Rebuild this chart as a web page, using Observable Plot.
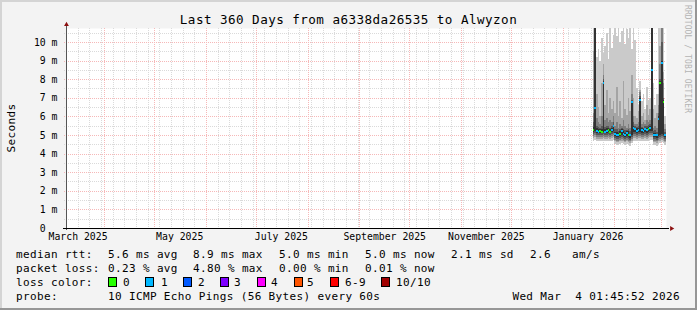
<!DOCTYPE html>
<html><head><meta charset="utf-8">
<script src="https://cdn.jsdelivr.net/npm/d3@7"></script>
<script src="https://cdn.jsdelivr.net/npm/@observablehq/plot@0.6"></script>
<style>
html,body{margin:0;padding:0;background:#fff;}
#chart{position:relative;width:697px;height:310px;background:#f3f3f3;overflow:hidden;
  box-shadow: inset -2px -2px 0 #969696, inset 2px 2px 0 #d4d4d4;}
#chart svg{position:absolute;left:0;top:0;}
#chart svg text{font-family:"DejaVu Sans Mono",monospace;}
</style></head><body><div id="chart"></div>
<script>
// ---- time frame ----
const tStart = new Date(Date.UTC(2025, 2, 9, 1, 45, 52));
const tEnd = new Date(Date.UTC(2026, 2, 4, 1, 45, 52));
const firstDay = "2026-01-19";

// ---- tick labels ----
const xLabels = ["March 2025", "May 2025", "July 2025", "September 2025", "November 2025", "January 2026"];
const xLabelDates = ["2025-03-16", "2025-05-16", "2025-07-16", "2025-09-16", "2025-11-16", "2026-01-16"];
const yTicks = [0, 1, 2, 3, 4, 5, 6, 7, 8, 9, 10];
const yMax = 10.75;

// ---- series (milliseconds), one value per day ----
const med = [5.3, 6.5, 5.25, 5.2, 5.25, 5.2, 7.8, 5.2, 5.25, 5.3, 5.2, 5.3, 5.5,
  5.1, 5.05, 5.0, 5.1, 5.25, 5.1, 5.05, 5.15, 5.0, 5.0, 6.8, 5.4, 5.35,
  5.25, 5.3, 6.9, 5.3, 5.25, 5.35, 5.3, 5.35, 5.4,
  8.5, 5.0, 5.05, 5.0, 5.9, 7.8, 8.9, 6.8, 5.0];
const lossCount = [0, 1, 1, 1, 0, 0, 1, 1, 1, 0, 0, 1, 1,
  1, 1, 1, 0, 1, 1, 1, 1, 0, 1, 1, 1, 1,
  1, 1, 1, 1, 1, 1, 1, 0, 1,
  1, 1, 1, 1, 1, 0, 1, 0, 1];
// sorted pings: p1 (lowest) ... p10 (highest)
const p10 = [10.8, 10.8, 9.2, 9.6, 9.0, 10.2, 9.4, 9.8, 10.5, 9.1, 10.8, 9.7, 10.4,
  10.8, 10.3, 10.8, 10.0, 10.6, 10.8, 9.9, 10.7, 10.2, 10.8, 9.6, 10.8, 10.1,
  7.5, 6.6, 7.9, 6.8, 7.2, 6.4, 7.6, 6.9, 7.0,
  10.8, 7.8, 6.6, 7.2, 10.8, 10.8, 10.8, 10.8, 6.0];
const p9 = [9.5, 10.8, 7.2, 6.5, 6.0, 7.8, 8.8, 6.6, 7.4, 6.2, 7.0, 6.4, 6.8,
  6.2, 7.6, 6.0, 6.8, 5.9, 7.9, 6.4, 6.1, 7.0, 6.3, 8.2, 7.0, 6.0,
  5.9, 6.3, 7.4, 6.0, 6.2, 5.8, 6.6, 6.1, 6.4,
  10.8, 6.4, 5.9, 6.2, 7.2, 9.8, 10.8, 8.4, 5.6];
const p8 = [6.2, 10.8, 5.9, 5.7, 5.6, 6.0, 8.2, 5.8, 5.9, 5.7, 5.8, 5.7, 6.0,
  5.5, 5.7, 5.4, 5.6, 5.5, 5.8, 5.5, 5.4, 5.6, 5.4, 7.2, 6.0, 5.6,
  5.6, 5.7, 7.3, 5.6, 5.7, 5.6, 5.8, 5.7, 5.8,
  10.8, 5.4, 5.5, 5.4, 6.6, 8.8, 10.8, 7.8, 5.3];
const p7 = [5.7, 10.8, 5.5, 5.45, 5.4, 5.5, 8.0, 5.45, 5.5, 5.5, 5.4, 5.5, 5.7,
  5.3, 5.3, 5.2, 5.3, 5.4, 5.3, 5.25, 5.25, 5.3, 5.2, 6.9, 5.7, 5.5,
  5.45, 5.5, 7.1, 5.45, 5.4, 5.5, 5.5, 5.55, 5.6,
  10.8, 5.2, 5.25, 5.15, 6.2, 8.0, 10.0, 7.0, 5.15];
const p6 = [5.45, 10.8, 5.35, 5.3, 5.3, 5.3, 7.9, 5.3, 5.35, 5.35, 5.3, 5.4, 5.55,
  5.15, 5.15, 5.1, 5.2, 5.3, 5.2, 5.1, 5.2, 5.2, 5.05, 6.85, 5.5, 5.4,
  5.35, 5.4, 7.0, 5.35, 5.3, 5.4, 5.4, 5.45, 5.5,
  10.8, 5.1, 5.1, 5.05, 6.0, 7.9, 9.0, 6.9, 5.05];
const p5 = [5.15, 5.2, 5.1, 5.1, 5.1, 5.1, 5.15, 5.1, 5.1, 5.15, 5.1, 5.15, 5.2,
  4.95, 4.9, 4.9, 4.95, 5.0, 4.95, 4.9, 4.95, 4.9, 4.85, 5.0, 5.15, 5.15,
  5.1, 5.15, 5.15, 5.1, 5.1, 5.15, 5.1, 5.15, 5.2,
  5.2, 4.9, 4.9, 4.85, 4.95, 5.0, 5.05, 5.0, 4.9];
const p4 = [5.05, 5.1, 5.0, 5.0, 5.0, 5.0, 5.05, 5.0, 5.0, 5.05, 5.0, 5.05, 5.1,
  4.85, 4.8, 4.8, 4.85, 4.9, 4.85, 4.8, 4.85, 4.8, 4.75, 4.9, 5.05, 5.05,
  5.0, 5.05, 5.05, 5.0, 5.0, 5.05, 5.0, 5.05, 5.1,
  5.1, 4.8, 4.8, 4.75, 4.85, 4.9, 4.95, 4.9, 4.8];
const p3 = [4.95, 5.0, 4.9, 4.9, 4.9, 4.9, 4.95, 4.9, 4.9, 4.95, 4.9, 4.95, 5.0,
  4.75, 4.7, 4.7, 4.75, 4.8, 4.75, 4.7, 4.75, 4.7, 4.65, 4.8, 4.95, 4.95,
  4.9, 4.95, 4.95, 4.9, 4.9, 4.95, 4.9, 4.95, 5.0,
  5.0, 4.7, 4.7, 4.65, 4.75, 4.8, 4.85, 4.8, 4.7];
const p2 = [4.85, 4.9, 4.8, 4.8, 4.8, 4.8, 4.85, 4.8, 4.8, 4.85, 4.8, 4.85, 4.9,
  4.65, 4.6, 4.6, 4.65, 4.7, 4.65, 4.6, 4.65, 4.6, 4.55, 4.7, 4.85, 4.85,
  4.8, 4.85, 4.85, 4.8, 4.8, 4.85, 4.8, 4.85, 4.9,
  4.9, 4.6, 4.6, 4.55, 4.65, 4.7, 4.75, 4.7, 4.6];
const p1 = [4.7, 4.75, 4.65, 4.65, 4.7, 4.65, 4.7, 4.65, 4.7, 4.7, 4.65, 4.7, 4.75,
  4.5, 4.45, 4.45, 4.5, 4.55, 4.5, 4.45, 4.5, 4.45, 4.4, 4.55, 4.7, 4.7,
  4.65, 4.7, 4.7, 4.65, 4.65, 4.7, 4.65, 4.7, 4.75,
  4.75, 4.45, 4.45, 4.4, 4.5, 4.55, 4.6, 4.55, 4.45];

// ---- legend ----
const lossLabels = ["0", "1", "2", "3", "4", "5", "6-9", "10/10"];
const lossColors = ["#26ff00", "#00b8ff", "#0059ff", "#7e00ff", "#ff00ff", "#ff5500", "#ff0000", "#a10000"];
const smokeColors = ["#cacaca", "#a4a4a4", "#7e7e7e", "#585858", "#323232"];
const titleText = "Last 360 Days from a6338da26535 to Alwyzon";
const yTitle = "Seconds";
const statRtt = ["median rtt:", "5.6 ms avg", "8.9 ms max", "5.0 ms min", "5.0 ms now", "2.1 ms sd", "2.6", "am/s"];
const statLoss = ["packet loss:", "0.23 % avg", "4.80 % max", "0.00 % min", "0.01 % now"];
const probeRow = ["probe:", "10 ICMP Echo Pings (56 Bytes) every 60s"];
const stampText = "Wed Mar  4 01:45:52 2026";
const watermark = "RRDTOOL / TOBI OETIKER";

// ---- build tables ----
const day0 = new Date(firstDay + "T00:00:00Z");
const dates = d3.utcDay.range(day0, d3.utcDay.offset(day0, med.length));
const pings = [p1, p2, p3, p4, p5, p6, p7, p8, p9, p10];
const rows = dates.map((d, i) => ({date: d, next: d3.utcDay.offset(d, 1), med: med[i], loss: lossCount[i]}));
const bands = [];
for (let k = 0; k < 5; k++) {
  rows.forEach((r, i) => bands.push({date: r.date, next: r.next, lo: pings[k][i], hi: pings[9 - k][i], color: smokeColors[k]}));
}
const lossIndex = n => n <= 5 ? n : (n < 10 ? 6 : 7);
const labelMap = new Map(xLabelDates.map((s, i) => [+new Date(s + "T00:00:00Z"), xLabels[i]]));

const weeks = d3.utcSunday.range(tStart, tEnd);
const months = d3.utcMonth.range(tStart, tEnd);
const yMinor = d3.range(0.5, yMax, 1);
const yMajor = yTicks.filter(v => v > 0);

const gridGray = "#dadada";
const gridRed = "#f6b8b8";
const arrowColor = "#8c1010";

const plot = Plot.plot({
  width: 697, height: 310,
  marginLeft: 66, marginRight: 31, marginTop: 28, marginBottom: 82,
  style: {background: "transparent", fontFamily: "DejaVu Sans Mono", fontSize: "9.8px", color: "#000", overflow: "visible"},
  x: {type: "utc", domain: [tStart, tEnd], ticks: xLabelDates.map(s => new Date(s + "T00:00:00Z")),
      tickFormat: d => labelMap.get(+d), tickSize: 0, tickPadding: 5, label: null},
  y: {domain: [0, yMax], ticks: yTicks, tickFormat: d => d === 0 ? "0\u00a0\u00a0" : d + "\u00a0m",
      tickSize: 0, tickPadding: 9, label: null},
  color: {type: "identity"},
  marks: [
    Plot.frame({fill: "white", stroke: "none"}),
    Plot.ruleY(yMinor, {stroke: gridGray, strokeDasharray: "1,1", insetLeft: -2, shapeRendering: "crispEdges"}),
    Plot.ruleX(weeks, {stroke: gridGray, strokeDasharray: "1,1", insetBottom: -2, shapeRendering: "crispEdges"}),
    Plot.ruleY(yMajor, {stroke: gridRed, strokeDasharray: "1,1", insetLeft: -2, shapeRendering: "crispEdges"}),
    Plot.ruleX(months, {stroke: gridRed, strokeDasharray: "1,1", insetBottom: -2, shapeRendering: "crispEdges"}),
    Plot.rect(bands, {x1: "date", x2: "next", y1: "lo", y2: "hi", fill: "color", clip: true, shapeRendering: "crispEdges"}),
    Plot.ruleY(rows, {y: "med", x1: "date", x2: "next", stroke: d => lossColors[lossIndex(d.loss)], strokeWidth: 2, clip: true, shapeRendering: "crispEdges"}),
    Plot.ruleX([tStart], {stroke: "#555", insetTop: -3, insetBottom: -2, shapeRendering: "crispEdges"}),
    Plot.ruleY([0], {stroke: "#000", insetLeft: -3, insetRight: -3, shapeRendering: "crispEdges"}),
    Plot.dot([tEnd], {x: d => d, y: 0, symbol: "triangle2", rotate: 90, r: 2.3, fill: arrowColor, stroke: "none", dx: 5}),
    Plot.dot([yMax], {x: () => tStart, y: d => d, symbol: "triangle2", r: 2.3, fill: arrowColor, stroke: "none", dy: -4})
  ]
});
document.getElementById("chart").appendChild(plot);

// ---- titles and legend text ----
const svg = d3.select(plot);
const g = svg.append("g").attr("fill", "#000").style("white-space", "pre").attr("xml:space", "preserve");
const legendFont = "11px";
const legendSpacing = "0.36px";
function txt(x, y, s, opts = {}) {
  return g.append("text").attr("x", x).attr("y", y).text(s)
    .style("font-size", opts.size || legendFont)
    .style("letter-spacing", opts.ls || legendSpacing)
    .attr("text-anchor", opts.anchor || "start")
    .attr("fill", opts.fill || "#000");
}
txt(348.5, 23.5, titleText, {size: "12.6px", ls: "0.45px", anchor: "middle"});
g.append("text").attr("transform", "translate(14.5,128) rotate(-90)").attr("text-anchor", "middle")
  .style("font-size", "11px").style("letter-spacing", "0.36px").text(yTitle);
g.append("text").attr("transform", "translate(685,5) rotate(90)").attr("text-anchor", "start")
  .attr("fill", "#b4b4b4").style("font-size", "8px").style("letter-spacing", "0.1px").text(watermark);

const row1X = [16, 108, 193, 279, 365, 451, 530, 572];
statRtt.forEach((s, i) => txt(row1X[i], 258, s));
const row2X = [16, 108, 193, 279, 365];
statLoss.forEach((s, i) => txt(row2X[i], 272, s));
txt(16, 286, "loss color:");
const boxX = [108, 145, 183, 220, 257, 294, 330, 381];
const boxLabelX = [123, 161, 198, 234, 271, 307, 345, 396];
lossLabels.forEach((s, i) => {
  g.append("rect").attr("x", boxX[i] + 0.5).attr("y", 277.5).attr("width", 8).attr("height", 9)
    .attr("fill", lossColors[i]).attr("stroke", "#000").attr("stroke-width", 1);
  txt(boxLabelX[i], 286, s);
});
txt(16, 300, probeRow[0]);
txt(108, 300, probeRow[1]);
txt(680, 300, stampText, {anchor: "end"});
</script></body></html>
